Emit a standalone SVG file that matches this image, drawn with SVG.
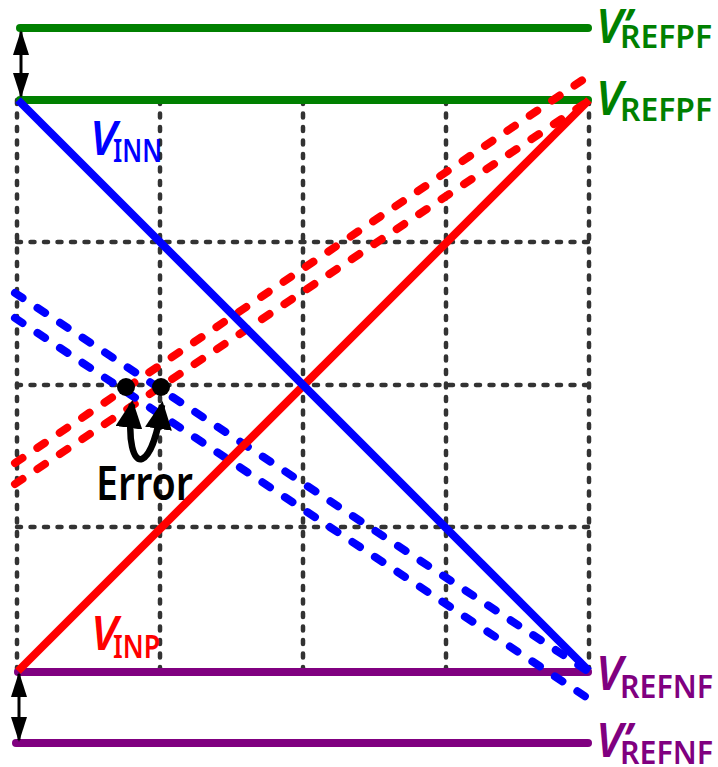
<svg xmlns="http://www.w3.org/2000/svg" width="718" height="767" viewBox="0 0 718 767">
<style>
.grid{stroke:#333;stroke-width:4.5;stroke-dasharray:4 9.5;stroke-linecap:round;fill:none}
.ref{stroke-width:8;stroke-linecap:round;fill:none}
.dash{stroke-width:8;stroke-linecap:round;stroke-dasharray:9 18;fill:none}
.solid{stroke-width:8;stroke-linecap:butt;fill:none}
.V{font-family:"Noto Sans","Liberation Sans",sans-serif;font-style:italic;font-weight:600;font-size:46px}
.sub{font-family:"Noto Sans","Liberation Sans",sans-serif;font-weight:600;font-size:32px}
.err{font-family:"Noto Sans","Liberation Sans",sans-serif;font-weight:600;font-size:46px}
</style>
<defs>
<marker id="ah" viewBox="0 0 25 16" refX="23" refY="8" markerWidth="25" markerHeight="16" markerUnits="userSpaceOnUse" orient="auto-start-reverse">
<path d="M0,0 L25,8 L0,16 z" fill="#000"/>
</marker>
<marker id="ah2" viewBox="0 0 28 27" refX="24" refY="13.5" markerWidth="28" markerHeight="27" markerUnits="userSpaceOnUse" orient="auto-start-reverse">
<path d="M0,0 L28,13.5 L0,27 z" fill="#000"/>
</marker>
</defs>
<g id="grid">
<line class="grid" x1="17" y1="100" x2="17" y2="671"/>
<line class="grid" x1="160" y1="100" x2="160" y2="671"/>
<line class="grid" x1="303" y1="100" x2="303" y2="671"/>
<line class="grid" x1="446" y1="100" x2="446" y2="671"/>
<line class="grid" x1="589" y1="100" x2="589" y2="671"/>
<line class="grid" x1="17" y1="242" x2="589" y2="242"/>
<line class="grid" x1="17" y1="385" x2="589" y2="385"/>
<line class="grid" x1="17" y1="527" x2="589" y2="527"/>
</g>
<g id="refs">
<line id="vrefpf2" class="ref" stroke="#008000" x1="20" y1="28" x2="588" y2="28"/>
<line id="vrefpf" class="ref" stroke="#008000" x1="20" y1="100" x2="588" y2="100"/>
<line id="vrefnf" class="ref" stroke="#800080" x1="18" y1="672" x2="588" y2="672"/>
<line id="vrefnf2" class="ref" stroke="#800080" x1="16" y1="743" x2="588" y2="743"/>
</g>
<g id="connectors">
<line class="dash" stroke="#ff0000" x1="15" y1="463" x2="590" y2="75"/>
<line class="dash" stroke="#ff0000" x1="15" y1="484" x2="590" y2="100"/>
<line class="dash" stroke="#0000ff" x1="15" y1="293" x2="589" y2="672"/>
<line class="dash" stroke="#0000ff" x1="15" y1="318" x2="589" y2="699"/>
<line class="solid" stroke="#ff0000" x1="18" y1="671" x2="589" y2="100"/>
<line class="solid" stroke="#0000ff" x1="18" y1="100" x2="589" y2="671"/>
<line stroke="#000" stroke-width="3" x1="21" y1="32" x2="21" y2="96" marker-start="url(#ah)" marker-end="url(#ah)"/>
<line stroke="#000" stroke-width="3" x1="19" y1="674" x2="19" y2="740" marker-start="url(#ah)" marker-end="url(#ah)"/>
<path d="M132,404 C127,442 134,462 142,459 C151,455 158,432 162,405" fill="none" stroke="#000" stroke-width="6.5" marker-start="url(#ah2)" marker-end="url(#ah2)"/>
</g>
<g id="dots">
<circle cx="126" cy="387" r="9" fill="#000"/>
<circle cx="161" cy="387" r="9" fill="#000"/>
</g>
<g id="labels">
<g id="lbl-vrefpf2" fill="#008000">
<text class="V" x="596" y="43">V’</text>
<text class="sub" x="620" y="48" textLength="92" lengthAdjust="spacingAndGlyphs">REFPF</text>
</g>
<g id="lbl-vrefpf" fill="#008000">
<text class="V" x="596" y="115">V</text>
<text class="sub" x="620" y="121" textLength="92" lengthAdjust="spacingAndGlyphs">REFPF</text>
</g>
<g id="lbl-vrefnf" fill="#800080">
<text class="V" x="596" y="690">V</text>
<text class="sub" x="620" y="698" textLength="93" lengthAdjust="spacingAndGlyphs">REFNF</text>
</g>
<g id="lbl-vrefnf2" fill="#800080">
<text class="V" x="596" y="757">V’</text>
<text class="sub" x="620" y="764" textLength="93" lengthAdjust="spacingAndGlyphs">REFNF</text>
</g>
<g id="lbl-vinn" fill="#0000ff">
<text class="V" x="90" y="155">V</text>
<text class="sub" x="113" y="162" font-size="31" textLength="49" lengthAdjust="spacingAndGlyphs">INN</text>
</g>
<g id="lbl-vinp" fill="#ff0000">
<text class="V" x="91" y="650">V</text>
<text class="sub" x="113" y="658" font-size="31" textLength="47" lengthAdjust="spacingAndGlyphs">INP</text>
</g>
<text id="lbl-error" class="err" x="96" y="500" textLength="97" lengthAdjust="spacingAndGlyphs" fill="#000">Error</text>
</g>
</svg>
